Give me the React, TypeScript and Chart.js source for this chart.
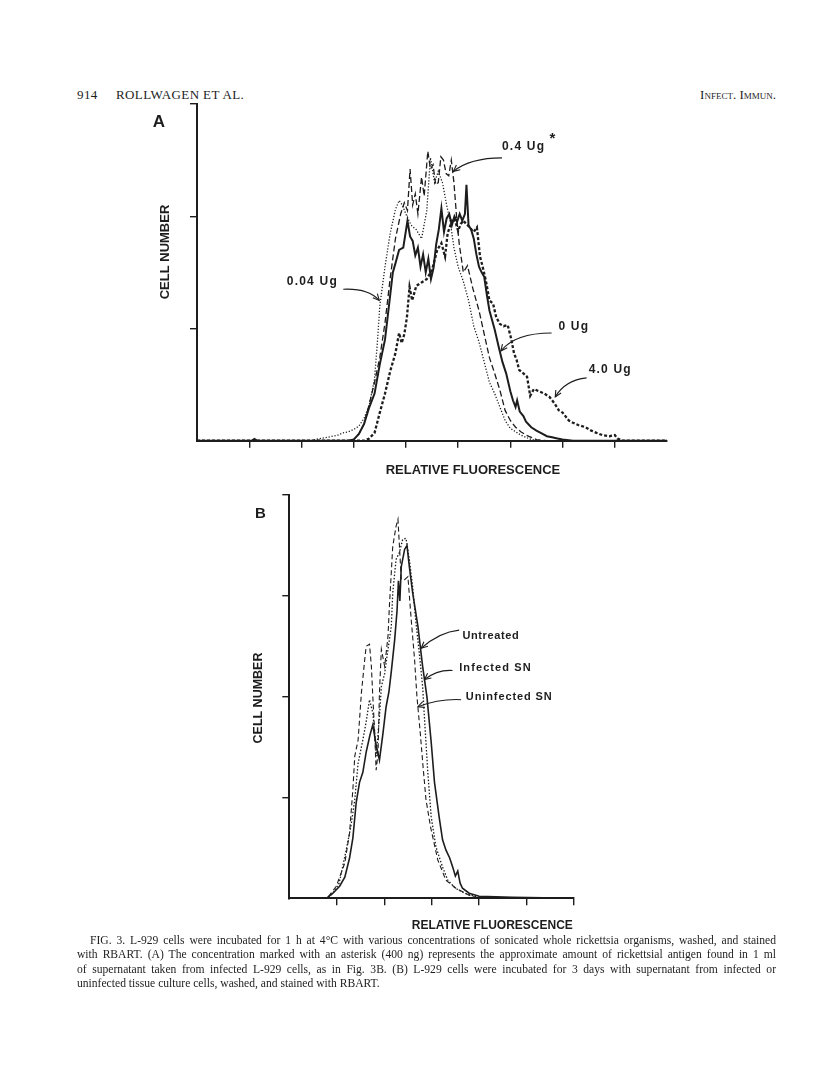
import React, { useEffect, useRef } from "react";
import { Chart, registerables } from "chart.js";

Chart.register(...registerables);

const INK = "#1d1d1d";

// ---------- Panel A: relative fluorescence (x, 0..9) vs cell number (y, 0..3) ----------
const seriesA_0Ug: [number, number][] = [
  [0, 0], [1.05, 0], [1.1, 0.015], [1.15, 0], [2.9, 0], [3.0, 0.01], [3.1, 0.06], [3.2, 0.15], [3.3, 0.3],
  [3.4, 0.42], [3.5, 0.68], [3.6, 0.9], [3.7, 1.3], [3.75, 1.5], [3.8, 1.58], [3.87, 1.7], [3.95, 1.72],
  [4.03, 1.96], [4.08, 1.82], [4.13, 1.78], [4.18, 1.65], [4.23, 1.72], [4.28, 1.55], [4.33, 1.66],
  [4.38, 1.5], [4.43, 1.62], [4.48, 1.44], [4.53, 1.54], [4.58, 1.75], [4.63, 1.88], [4.68, 2.07],
  [4.73, 1.86], [4.78, 1.98], [4.83, 2.02], [4.88, 1.92], [4.93, 2.0], [4.98, 1.95], [5.03, 2.02],
  [5.08, 1.96], [5.13, 2.02], [5.16, 2.28], [5.2, 1.92], [5.25, 1.88], [5.3, 1.8], [5.35, 1.66],
  [5.4, 1.55], [5.45, 1.5], [5.5, 1.46], [5.55, 1.3], [5.6, 1.16], [5.7, 0.99], [5.78, 0.83], [5.85, 0.7],
  [5.92, 0.6], [6.0, 0.44], [6.05, 0.36], [6.1, 0.3], [6.13, 0.36], [6.18, 0.26], [6.25, 0.22], [6.3, 0.17],
  [6.4, 0.12], [6.5, 0.09], [6.6, 0.065], [6.7, 0.04], [6.8, 0.03], [6.9, 0.02], [7.0, 0.01], [7.2, 0], [9, 0],
];
const seriesA_004Ug: [number, number][] = [
  [0, 0], [2.2, 0], [2.3, 0.015], [2.5, 0.03], [2.7, 0.05], [2.8, 0.07], [2.9, 0.08], [3.0, 0.1],
  [3.1, 0.13], [3.2, 0.2], [3.3, 0.32], [3.4, 0.55], [3.45, 0.85], [3.5, 1.2], [3.6, 1.55], [3.7, 1.85],
  [3.8, 2.06], [3.87, 2.14], [3.93, 2.1], [4.0, 2.02], [4.1, 1.92], [4.2, 1.88], [4.3, 1.8], [4.4, 2.05],
  [4.47, 2.52], [4.55, 2.3], [4.62, 2.4], [4.7, 2.3], [4.78, 2.1], [4.85, 1.95], [4.92, 1.72], [5.0, 1.55],
  [5.1, 1.42], [5.2, 1.25], [5.3, 1.02], [5.4, 0.88], [5.5, 0.7], [5.6, 0.52], [5.7, 0.42], [5.8, 0.3],
  [5.9, 0.18], [6.0, 0.11], [6.1, 0.08], [6.2, 0.05], [6.3, 0.03], [6.4, 0.01], [6.6, 0], [9, 0],
];
const seriesA_04Ug: [number, number][] = [
  [0, 0], [2.9, 0], [3.0, 0.01], [3.1, 0.06], [3.2, 0.15], [3.3, 0.33], [3.4, 0.52], [3.5, 0.74],
  [3.6, 1.05], [3.7, 1.45], [3.8, 1.8], [3.9, 2.02], [3.97, 2.12], [4.03, 2.05], [4.08, 2.42], [4.13, 2.1],
  [4.18, 2.2], [4.23, 2.02], [4.3, 2.35], [4.35, 2.18], [4.42, 2.58], [4.47, 2.42], [4.52, 2.46],
  [4.57, 2.28], [4.62, 2.3], [4.67, 2.53], [4.72, 2.5], [4.77, 2.38], [4.82, 2.36], [4.87, 2.5], [4.92, 2.3],
  [4.97, 2.0], [5.02, 1.76], [5.1, 1.5], [5.18, 1.56], [5.28, 1.36], [5.4, 1.16], [5.5, 0.95], [5.6, 0.74],
  [5.7, 0.6], [5.8, 0.45], [5.9, 0.27], [6.0, 0.18], [6.1, 0.12], [6.2, 0.08], [6.3, 0.05], [6.4, 0.03],
  [6.5, 0.01], [6.7, 0], [9, 0],
];
const seriesA_40Ug: [number, number][] = [
  [0, 0], [3.2, 0], [3.3, 0.02], [3.4, 0.07], [3.5, 0.25], [3.6, 0.42], [3.7, 0.62], [3.8, 0.78],
  [3.87, 0.96], [3.92, 0.87], [3.97, 0.95], [4.02, 1.1], [4.07, 1.37], [4.12, 1.25], [4.2, 1.38], [4.3, 1.41],
  [4.4, 1.44], [4.5, 1.52], [4.6, 1.7], [4.68, 1.76], [4.75, 1.64], [4.8, 1.85], [4.9, 1.98], [4.95, 1.95],
  [5.0, 1.87], [5.05, 1.93], [5.1, 1.96], [5.2, 1.91], [5.3, 1.86], [5.36, 1.9], [5.42, 1.64], [5.47, 1.55],
  [5.53, 1.43], [5.6, 1.25], [5.67, 1.22], [5.73, 1.1], [5.8, 1.04], [5.87, 1.02], [5.95, 1.03], [6.02, 0.9],
  [6.07, 0.78], [6.12, 0.72], [6.17, 0.63], [6.25, 0.6], [6.32, 0.57], [6.38, 0.4], [6.45, 0.46], [6.55, 0.44],
  [6.65, 0.42], [6.75, 0.39], [6.85, 0.33], [6.93, 0.27], [7.0, 0.25], [7.12, 0.18], [7.2, 0.16], [7.3, 0.14],
  [7.44, 0.12], [7.55, 0.09], [7.65, 0.07], [7.76, 0.05], [7.9, 0.04], [8.0, 0.05], [8.05, 0.02], [8.15, 0], [9, 0],
];

// ---------- Panel B: relative fluorescence (x, 0..6) vs cell number (y, 0..4) ----------
const seriesB_untreated: [number, number][] = [
  [0, 0], [0.78, 0], [0.92, 0.05], [1.06, 0.12], [1.17, 0.21], [1.27, 0.4], [1.34, 0.6], [1.41, 0.95],
  [1.48, 1.15], [1.55, 1.25], [1.62, 1.45], [1.7, 1.62], [1.76, 1.72], [1.83, 1.52], [1.9, 1.37], [1.97, 1.62],
  [2.04, 1.9], [2.1, 2.05], [2.15, 2.25], [2.22, 2.56], [2.27, 2.85], [2.3, 3.15], [2.33, 2.95], [2.36, 3.29],
  [2.43, 3.46], [2.48, 3.5], [2.53, 3.29], [2.6, 3.03], [2.71, 2.7], [2.81, 2.3], [2.9, 2.0], [2.99, 1.55],
  [3.06, 1.15], [3.16, 0.8], [3.23, 0.58], [3.3, 0.48], [3.38, 0.4], [3.45, 0.3], [3.5, 0.22], [3.55, 0.27],
  [3.6, 0.15], [3.65, 0.1], [3.79, 0.05], [4.0, 0.02], [4.7, 0.01], [6, 0],
];
const seriesB_infected: [number, number][] = [
  [0, 0], [0.8, 0], [0.92, 0.05], [1.05, 0.15], [1.2, 0.48], [1.3, 0.72], [1.38, 0.98], [1.45, 1.34],
  [1.55, 1.57], [1.62, 1.75], [1.69, 1.97], [1.76, 1.84], [1.8, 1.64], [1.83, 1.41], [1.9, 1.8], [1.94, 2.1],
  [2.01, 2.23], [2.08, 2.47], [2.15, 2.7], [2.18, 3.03], [2.25, 3.36], [2.32, 3.43], [2.39, 3.56], [2.46, 3.57],
  [2.53, 3.36], [2.6, 3.09], [2.67, 2.73], [2.74, 2.43], [2.81, 2.1], [2.86, 1.7], [2.92, 1.24], [2.99, 0.81],
  [3.09, 0.51], [3.23, 0.31], [3.34, 0.18], [3.5, 0.1], [3.7, 0.05], [3.9, 0.02], [4.1, 0], [6, 0],
];
const seriesB_uninfected: [number, number][] = [
  [0, 0], [0.8, 0], [0.99, 0.12], [1.17, 0.35], [1.27, 0.65], [1.34, 1.08], [1.38, 1.41], [1.45, 1.57],
  [1.52, 2.04], [1.59, 2.37], [1.62, 2.5], [1.69, 2.52], [1.73, 2.3], [1.76, 2.0], [1.8, 1.64], [1.83, 1.27],
  [1.87, 1.44], [1.9, 2.04], [1.94, 2.47], [2.01, 2.3], [2.08, 2.6], [2.11, 2.9], [2.18, 3.49], [2.25, 3.69],
  [2.29, 3.76], [2.36, 3.16], [2.43, 3.16], [2.5, 3.19], [2.57, 2.76], [2.64, 2.37], [2.69, 2.0], [2.76, 1.64],
  [2.82, 1.3], [2.88, 0.98], [2.98, 0.7], [3.05, 0.55], [3.13, 0.38], [3.3, 0.18], [3.51, 0.1], [3.79, 0.03],
  [4.0, 0], [6, 0],
];

// ---------- annotation texts ----------
const labelsA = ["0.4 Ug", "0.04 Ug", "0 Ug", "4.0 Ug"];
const labelsB = ["Untreated", "Infected SN", "Uninfected SN"];
const axisTitleX = "RELATIVE FLUORESCENCE";
const axisTitleY = "CELL NUMBER";

const captionLines = [
  "FIG. 3.  L-929 cells were incubated for 1 h at 4°C with various concentrations of sonicated whole rickettsia organisms, washed, and stained",
  "with RBART. (A) The concentration marked with an asterisk (400 ng) represents the approximate amount of rickettsial antigen found in 1 ml",
  "of supernatant taken from infected L-929 cells, as in Fig. 3B. (B) L-929 cells were incubated for 3 days with supernatant from infected or",
  "uninfected tissue culture cells, washed, and stained with RBART.",
];

type Pt = [number, number];
type Ann = {
  letter: { text: string; dx: number; dy: number; size: number };
  yTitle: { dx: number; dy: number; size: number };
  xTitle: { dx: number; dy: number; size: number };
  labels: { text: string; at: Pt; size: number; spacing: number }[];
  arrows: { from: Pt; ctrl: Pt; to: Pt }[];
  extra?: { text: string; at: Pt; size: number }[];
};

function annotationPlugin(ann: Ann) {
  return {
    id: "annot",
    afterDraw(chart: any) {
      const { ctx, chartArea } = chart;
      const xs = chart.scales.x;
      const ys = chart.scales.y;
      const px = (p: Pt) => [xs.getPixelForValue(p[0]), ys.getPixelForValue(p[1])];
      ctx.save();
      ctx.fillStyle = INK;
      ctx.strokeStyle = INK;
      ctx.textBaseline = "middle";
      ctx.textAlign = "center";
      ctx.font = `bold ${ann.letter.size}px "Liberation Sans", Arial, sans-serif`;
      ctx.fillText(ann.letter.text, chartArea.left + ann.letter.dx, chartArea.top + ann.letter.dy);
      ctx.save();
      ctx.translate(chartArea.left + ann.yTitle.dx, chartArea.top + ann.yTitle.dy);
      ctx.rotate(-Math.PI / 2);
      ctx.font = `bold ${ann.yTitle.size}px "Liberation Sans", Arial, sans-serif`;
      ctx.fillText(axisTitleY, 0, 0);
      ctx.restore();
      ctx.font = `bold ${ann.xTitle.size}px "Liberation Sans", Arial, sans-serif`;
      ctx.fillText(axisTitleX, chartArea.left + ann.xTitle.dx, chartArea.bottom + ann.xTitle.dy);
      ctx.textAlign = "left";
      for (const l of ann.labels) {
        ctx.font = `bold ${l.size}px "Liberation Sans", Arial, sans-serif`;
        (ctx as any).letterSpacing = `${l.spacing}px`;
        const [x, y] = px(l.at);
        ctx.fillText(l.text, x, y);
      }
      (ctx as any).letterSpacing = "0px";
      for (const e of ann.extra || []) {
        ctx.font = `bold ${e.size}px "Liberation Sans", Arial, sans-serif`;
        const [x, y] = px(e.at);
        ctx.fillText(e.text, x, y);
      }
      ctx.lineWidth = 1.1;
      for (const a of ann.arrows) {
        const [x0, y0] = px(a.from);
        const [cx, cy] = px(a.ctrl);
        const [x1, y1] = px(a.to);
        ctx.beginPath();
        ctx.moveTo(x0, y0);
        ctx.quadraticCurveTo(cx, cy, x1, y1);
        ctx.stroke();
        const ang = Math.atan2(y1 - cy, x1 - cx);
        const L = 7;
        ctx.beginPath();
        ctx.moveTo(x1 - L * Math.cos(ang - 0.45), y1 - L * Math.sin(ang - 0.45));
        ctx.lineTo(x1, y1);
        ctx.lineTo(x1 - L * Math.cos(ang + 0.45), y1 - L * Math.sin(ang + 0.45));
        ctx.stroke();
      }
      ctx.restore();
    },
  };
}

function dataset(label: string, pts: Pt[], dash: number[], width: number) {
  return {
    label,
    data: pts.map(([x, y]) => ({ x, y })),
    borderColor: INK,
    borderWidth: width,
    borderDash: dash,
    borderCapStyle: "butt",
    pointRadius: 0,
    fill: false,
    tension: 0,
  };
}

function axes(xMax: number, yMax: number, hideX: number[], hideY: number[]) {
  const tickColor = (hidden: number[]) => (c: any) =>
    c.tick && hidden.includes(c.tick.value) ? "rgba(0,0,0,0)" : INK;
  return {
    x: {
      type: "linear",
      min: 0,
      max: xMax,
      ticks: { display: false, stepSize: 1 },
      grid: { drawOnChartArea: false, drawTicks: true, tickLength: 7, lineWidth: 1.4, color: tickColor(hideX) },
      border: { display: true, color: INK, width: 2 },
      afterFit: (s: any) => { s.height = 7; },
    },
    y: {
      type: "linear",
      min: 0,
      max: yMax,
      ticks: { display: false, stepSize: 1 },
      grid: { drawOnChartArea: false, drawTicks: true, tickLength: 7, lineWidth: 1.4, color: tickColor(hideY) },
      border: { display: true, color: INK, width: 2 },
      afterFit: (s: any) => { s.width = 7; },
    },
  };
}

function ChartCanvas(props: { left: number; top: number; width: number; height: number; make: () => any }) {
  const ref = useRef<HTMLCanvasElement | null>(null);
  useEffect(() => {
    const chart = new Chart(ref.current as HTMLCanvasElement, props.make());
    return () => chart.destroy();
  }, []);
  return (
    <canvas
      ref={ref}
      width={props.width}
      height={props.height}
      style={{ position: "absolute", left: props.left, top: props.top, width: props.width, height: props.height }}
    />
  );
}

const makeA = () => ({
  type: "line",
  data: {
    datasets: [
      dataset("0.04 Ug", seriesA_004Ug, [1.2, 1.8], 1.3),
      dataset("0.4 Ug", seriesA_04Ug, [6, 3], 1.3),
      dataset("4.0 Ug", seriesA_40Ug, [3, 2], 2.3),
      dataset("0 Ug", seriesA_0Ug, [], 2),
    ],
  },
  options: {
    animation: false,
    responsive: false,
    events: [],
    layout: { padding: { left: 40, top: 24, right: 23, bottom: 42.3 } },
    plugins: { legend: { display: false }, tooltip: { enabled: false } },
    scales: axes(9, 3, [0, 9], [0]),
  },
  plugins: [
    annotationPlugin({
      letter: { text: "A", dx: -38, dy: 18, size: 17 },
      yTitle: { dx: -32, dy: 148, size: 13 },
      xTitle: { dx: 276, dy: 30, size: 13 },
      labels: [
        { text: labelsA[0], at: [5.84, 2.62], size: 12, spacing: 1.2 },
        { text: labelsA[1], at: [1.72, 1.42], size: 12, spacing: 1.2 },
        { text: labelsA[2], at: [6.92, 1.02], size: 12, spacing: 1.2 },
        { text: labelsA[3], at: [7.5, 0.63], size: 12, spacing: 1.2 },
      ],
      extra: [{ text: "*", at: [6.75, 2.69], size: 15 }],
      arrows: [
        { from: [5.84, 2.52], ctrl: [5.23, 2.52], to: [4.91, 2.4] },
        { from: [2.8, 1.35], ctrl: [3.28, 1.36], to: [3.49, 1.25] },
        { from: [6.79, 0.96], ctrl: [6.09, 0.96], to: [5.82, 0.8] },
        { from: [7.46, 0.56], ctrl: [7.05, 0.54], to: [6.86, 0.39] },
      ],
    }),
  ],
});

const makeB = () => ({
  type: "line",
  data: {
    datasets: [
      dataset("Uninfected SN", seriesB_uninfected, [5, 3], 1.1),
      dataset("Infected SN", seriesB_infected, [1.5, 1.8], 1.3),
      dataset("Untreated", seriesB_untreated, [], 1.6),
    ],
  },
  options: {
    animation: false,
    responsive: false,
    events: [],
    layout: { padding: { left: 42.3, top: 25, right: 26, bottom: 34.7 } },
    plugins: { legend: { display: false }, tooltip: { enabled: false } },
    scales: axes(6, 4, [0], [0]),
  },
  plugins: [
    annotationPlugin({
      letter: { text: "B", dx: -29, dy: 18.5, size: 15 },
      yTitle: { dx: -31, dy: 203, size: 12.5 },
      xTitle: { dx: 203, dy: 27, size: 12 },
      labels: [
        { text: labelsB[0], at: [3.65, 2.6], size: 11, spacing: 0.6 },
        { text: labelsB[1], at: [3.58, 2.28], size: 11, spacing: 1.1 },
        { text: labelsB[2], at: [3.72, 2.0], size: 11, spacing: 0.9 },
      ],
      arrows: [
        { from: [3.58, 2.66], ctrl: [3.16, 2.64], to: [2.78, 2.48] },
        { from: [3.44, 2.26], ctrl: [3.12, 2.27], to: [2.85, 2.17] },
        { from: [3.62, 1.97], ctrl: [3.16, 1.98], to: [2.71, 1.9] },
      ],
    }),
  ],
});

export default function App() {
  const serif = '"Liberation Serif", "Times New Roman", serif';
  return (
    <div style={{ position: "absolute", left: 0, top: 0, width: 816, height: 1080, background: "#fff", color: INK, overflow: "hidden" }}>
      <div style={{ position: "absolute", left: 77, top: 87, fontFamily: serif, fontSize: 13, whiteSpace: "nowrap", letterSpacing: 0.4 }}>
        914&nbsp;&nbsp;&nbsp;&nbsp;&nbsp;ROLLWAGEN ET AL.
      </div>
      <div style={{ position: "absolute", left: 680, width: 96, top: 87, textAlign: "right", fontFamily: serif, fontSize: 13, whiteSpace: "nowrap", fontVariant: "small-caps" }}>
        Infect. Immun.
      </div>
      <ChartCanvas left={150} top={80} width={540} height={410} make={makeA} />
      <ChartCanvas left={240} top={470} width={360} height={470} make={makeB} />
      {captionLines.map((line, i) => (
        <div
          key={i}
          style={{
            position: "absolute",
            left: i === 0 ? 90 : 77,
            width: i === 0 ? 686 : 699,
            top: 934 + i * 14.4,
            fontFamily: serif,
            fontSize: 11.6,
            lineHeight: "14px",
            whiteSpace: "nowrap",
            textAlign: "justify",
            textAlignLast: i === captionLines.length - 1 ? "left" : "justify",
          }}
        >
          {line}
        </div>
      ))}
    </div>
  );
}
